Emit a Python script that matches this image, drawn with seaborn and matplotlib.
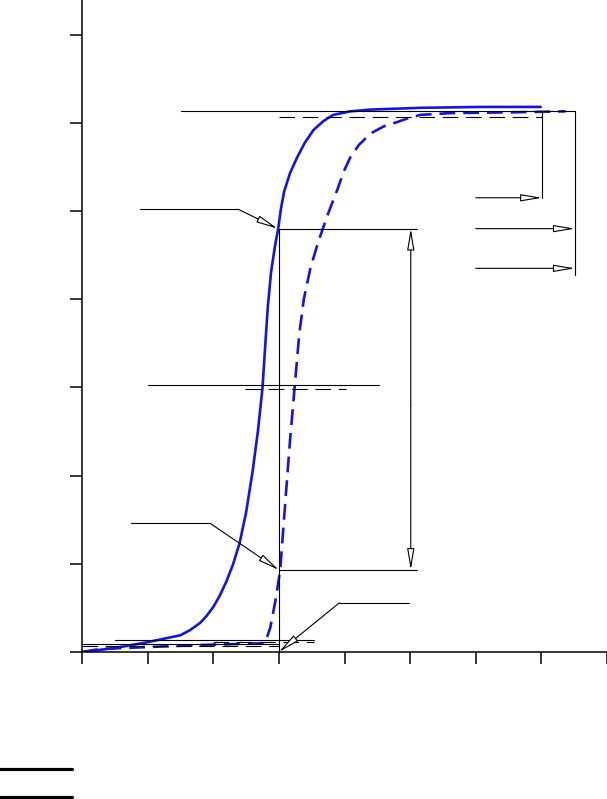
import matplotlib
matplotlib.use("Agg")
import matplotlib.pyplot as plt
from matplotlib.lines import Line2D
import numpy as np
import pandas as pd
import seaborn as sns

# magnetisation curves (x, y in tick units)
rise_x = [0.0, 0.5, 0.99, 1.5, 1.65, 1.8, 1.9, 2.0, 2.1, 2.2, 2.3, 2.4, 2.5, 2.6, 2.68,
          2.75, 2.79, 2.83, 2.88, 2.94, 2.99, 3.03, 3.08, 3.17, 3.28, 3.4, 3.53, 3.68, 3.83,
          4.09, 4.4, 5.16, 6.08, 6.76, 6.99]
rise_y = [0.0, 0.045, 0.11, 0.19, 0.25, 0.33, 0.41, 0.51, 0.64, 0.8, 0.99, 1.23, 1.58, 2.05,
          2.5, 2.99, 3.45, 3.9, 4.3, 4.6, 4.8, 5.02, 5.22, 5.43, 5.61, 5.78, 5.92, 6.02, 6.09,
          6.13, 6.15, 6.17, 6.18, 6.18, 6.18]
shift_x = [0.0, 0.27, 1.04, 1.8, 2.79, 2.87, 2.95, 3.02, 3.1, 3.17, 3.24, 3.31, 3.38, 3.48,
           3.6, 3.74, 3.89, 3.99, 4.09, 4.22, 4.4, 4.6, 4.81, 5.0, 5.16, 5.62, 6.64, 7.37]
shift_y = [0.0, 0.034, 0.057, 0.079, 0.10, 0.28, 0.59, 0.93, 1.72, 2.4, 3.0, 3.6, 4.0, 4.35,
           4.65, 4.95, 5.24, 5.45, 5.61, 5.75, 5.88, 5.96, 6.01, 6.06, 6.09, 6.11, 6.12, 6.13]

# reference levels used by the annotations
sat_level = 6.13
sat_level_2 = 6.07
knee_x = 3.0
knee_y = 4.80
low_y = 0.93
mid_level = 3.03
mid_level_2 = 2.98
base_levels = [0.136, 0.117, 0.087, 0.068]

x_ticks = list(range(0, 9))
y_ticks = list(range(0, 8))
x_ticklabels = [""] * len(x_ticks)
y_ticklabels = [""] * len(y_ticks)

sns.set_style("ticks")
fig = plt.figure(figsize=(6.07, 7.99), dpi=100)
ax = fig.add_axes([82 / 607, 147 / 799, 525 / 607, 652 / 799])

blue = "#1414e0"
df1 = pd.DataFrame({"x": rise_x, "y": rise_y})
df2 = pd.DataFrame({"x": shift_x, "y": shift_y})
sns.lineplot(data=df1, x="x", y="y", sort=False, ax=ax, color=blue, lw=1.9)
sns.lineplot(data=df2, x="x", y="y", sort=False, ax=ax, color=blue, lw=1.9,
             linestyle=(0, (6, 3)))

k = dict(color="black", lw=0.8)
kd = dict(color="black", lw=0.8, linestyle=(0, (14, 7)))
arr = dict(arrowstyle="-|>,head_length=1.3,head_width=0.22", fc="white", ec="black", lw=0.8,
           shrinkA=0, shrinkB=0)

# saturation lines and brackets
ax.plot([1.51, 7.01], [sat_level, sat_level], **k)
ax.plot([3.0, 7.01], [sat_level_2, sat_level_2], **kd)
ax.plot([7.01, 7.01], [sat_level, 5.15], **k)
ax.annotate("", xy=(7.01, 5.15), xytext=(6.0, 5.15), arrowprops=arr)
ax.plot([7.04, 7.51], [sat_level, sat_level], **k)
ax.plot([7.51, 7.51], [sat_level, 4.27], **k)
ax.annotate("", xy=(7.51, knee_y), xytext=(6.0, knee_y), arrowprops=arr)
ax.annotate("", xy=(7.51, 4.35), xytext=(6.0, 4.35), arrowprops=arr)

# knee pointer
ax.plot([0.89, 2.38], [5.02, 5.02], **k)
ax.annotate("", xy=(knee_x - 0.02, knee_y), xytext=(2.38, 5.02), arrowprops=arr)
ax.plot([knee_x, 5.10], [knee_y, knee_y], **k)
ax.plot([knee_x, knee_x], [knee_y, 0], **k)

# span between the curves
ax.annotate("", xy=(5.01, knee_y), xytext=(5.01, 2.8), arrowprops=arr)
ax.annotate("", xy=(5.01, low_y), xytext=(5.01, 2.8), arrowprops=arr)
ax.plot([knee_x, 5.10], [low_y, low_y], **k)

# lower pointer
ax.plot([0.75, 1.95], [1.46, 1.46], **k)
ax.annotate("", xy=(knee_x, low_y), xytext=(1.95, 1.46), arrowprops=arr)

# mid level lines
ax.plot([1.01, 4.52], [mid_level, mid_level], **k)
ax.plot([2.49, 4.02], [mid_level_2, mid_level_2], **kd)

# base lines near zero
ax.plot([0.5, 3.53], [base_levels[0], base_levels[0]], **k)
ax.plot([1.99, 3.53], [base_levels[1], base_levels[1]], **kd)
ax.plot([0.0, 3.0], [base_levels[2], base_levels[2]], **k)
ax.plot([0.0, 3.0], [base_levels[3], base_levels[3]], **kd)

# origin pointer
ax.plot([3.92, 4.99], [0.556, 0.556], **k)
ax.annotate("", xy=(3.0, 0.0), xytext=(3.92, 0.556), arrowprops=arr)

ax.set_xlim(0, 8)
ax.set_ylim(0, 652 / 88.2)
ax.set_xticks(x_ticks)
ax.set_xticklabels(x_ticklabels)
ax.set_yticks(y_ticks)
ax.set_yticklabels(y_ticklabels)
ax.set_xlabel("")
ax.set_ylabel("")
ax.tick_params(direction="out", length=8.5, width=1.1, color="black")
sns.despine(ax=ax)
for s in ["left", "bottom"]:
    ax.spines[s].set_color("black")
    ax.spines[s].set_linewidth(1.1)
ax.patch.set_alpha(0)

# legend strokes below the plot
for yy in [1 - 769 / 799, 1 - 797 / 799]:
    fig.add_artist(Line2D([0, 72 / 607], [yy, yy], color="black", lw=2.3,
                          transform=fig.transFigure))

fig.savefig("out.png", dpi=100)
